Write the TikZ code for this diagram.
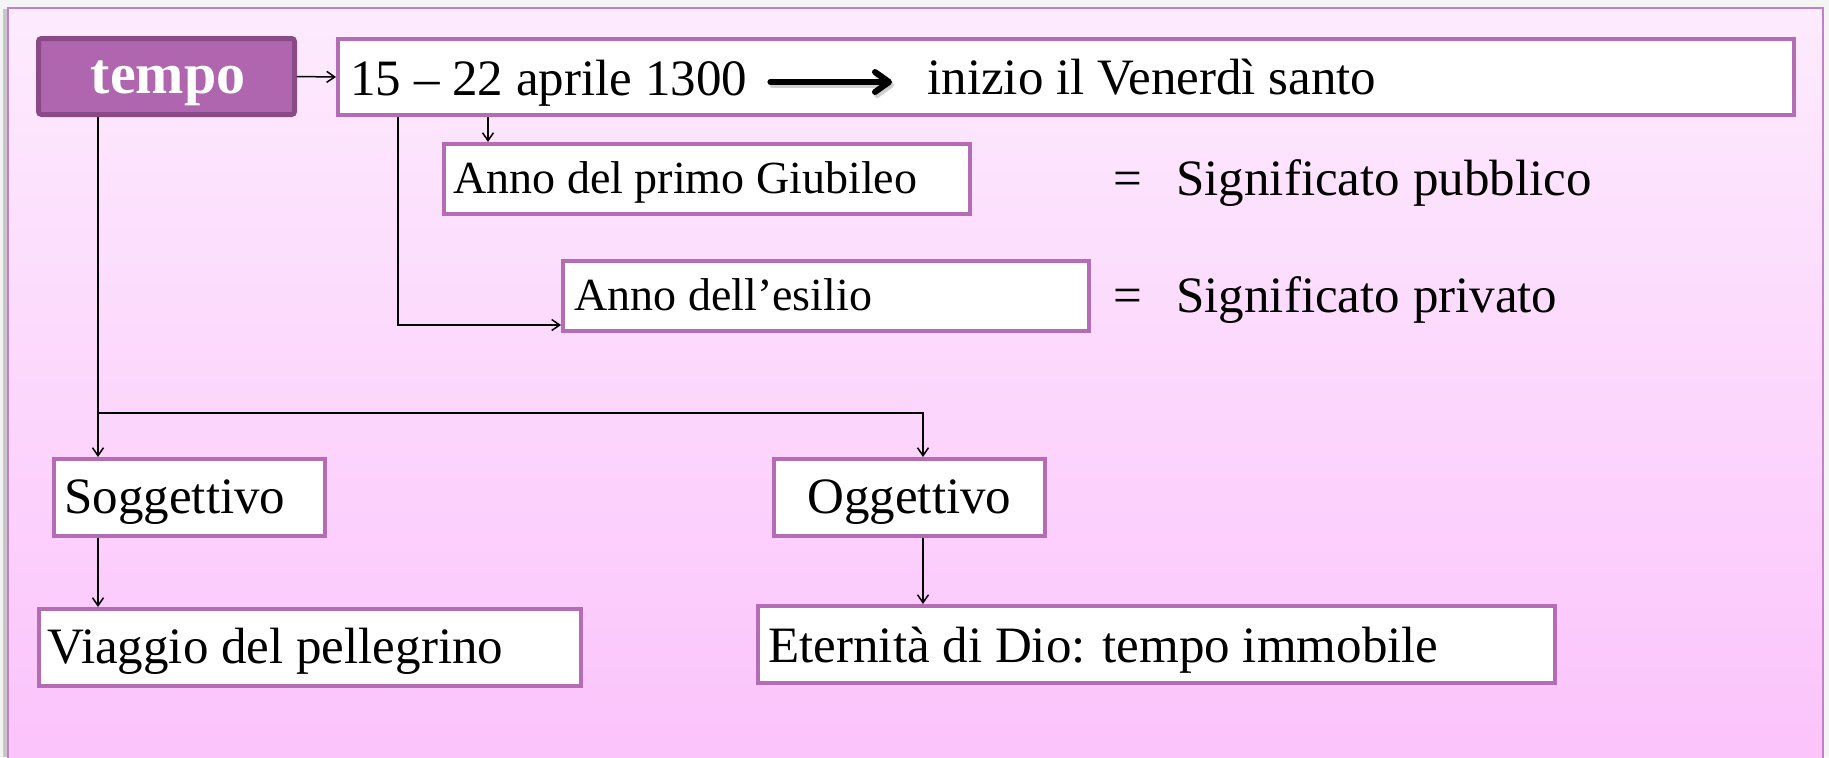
\documentclass[tikz,border=0pt]{standalone}
\usepackage{fontspec}
\setmainfont{Liberation Serif}
\usetikzlibrary{arrows.meta,calc}
\definecolor{bgout}{HTML}{F4F4F4}
\definecolor{bgtop}{HTML}{FDEBFE}
\definecolor{bgbot}{HTML}{FBC3FB}
\definecolor{frameline}{HTML}{C27EC8}
\definecolor{boxline}{HTML}{B46CB4}
\definecolor{tempofill}{HTML}{B066AE}
\definecolor{tempoline}{HTML}{8A4A88}
\tikzset{
  x=0.5pt, y=-0.5pt,
  stepbox/.style={draw=boxline, line width=2pt, fill=white, inner sep=0pt},
  txt/.style={anchor=base west, inner sep=0pt, font=\fontsize{25.5}{30}\selectfont},
  smalltxt/.style={anchor=base west, inner sep=0pt, font=\fontsize{23}{27}\selectfont},
  conn/.style={draw=black, line width=0.75pt, -{Straight Barb[length=4pt,width=5.5pt]}},
  bigarrow/.style={draw=black, line width=3pt, line cap=round, -{Straight Barb[length=7pt,width=10pt,line join=round,line cap=round]}},
}
\begin{document}
\begin{tikzpicture}
\useasboundingbox (0,0) rectangle (1829,757);
\fill[bgout] (0,0) rectangle (1829,757);
\fill[gray!45] (3,9) rectangle (8,757);
\shade[top color=bgtop, bottom color=bgbot] (7,7) rectangle (1823,770);
\draw[frameline, line width=1pt] (7.5,770) -- (7.5,7.5) -- (1822.5,7.5) -- (1822.5,770);

% boxes
\node[draw=tempoline, fill=tempofill, line width=2.5pt, rounded corners=1.5pt, minimum width=128pt, minimum height=38pt, inner sep=0pt] (tempo) at (166.5,76.5) {};
\node[stepbox, minimum width=728pt, minimum height=38pt] (date) at (1066,77) {};
\node[stepbox, minimum width=263pt, minimum height=35pt] (giub) at (707,179) {};
\node[stepbox, minimum width=263pt, minimum height=35pt] (esil) at (826,296) {};
\node[stepbox, minimum width=135.5pt, minimum height=38.5pt] (sogg) at (189.5,497.5) {};
\node[stepbox, minimum width=271pt, minimum height=38.5pt] (via) at (310,647.5) {};
\node[stepbox, minimum width=135.5pt, minimum height=38.5pt] (ogg) at (909.5,497.5) {};
\node[stepbox, minimum width=398.5pt, minimum height=38.5pt] (eter) at (1156.5,644.5) {};

% texts
\node[anchor=base, inner sep=0pt, text=white, font=\fontsize{29}{34}\selectfont\bfseries] (tempotxt) at (168,93) {tempo};
\node[txt] (t1) at (350,95) {15 – 22 aprile 1300};
\node[txt] (t2) at (927,94) {inizio il Venerdì santo};
\node[smalltxt] (giubtxt) at (453,193) {Anno del primo Giubileo};
\node[smalltxt] (esiltxt) at (574,310) {Anno dell’esilio};
\node[txt] (eq1) at (1113,195) {=};
\node[txt] (pub) at (1176,195) {Significato pubblico};
\node[txt] (eq2) at (1113,312) {=};
\node[txt] (priv) at (1176,312) {Significato privato};
\node[txt] (soggtxt) at (64,513) {Soggettivo};
\node[txt] (oggtxt) at (807,513) {Oggettivo};
\node[txt] (viatxt) at (47,663) {Viaggio del pellegrino};
\node[txt] (etertxt) at (768,662) {Eternità di Dio: tempo immobile};

% big arrow with shadow
\coordinate (ay) at (0,82);
\coordinate (ba0) at ($(t1.east)+(23,0)$);
\coordinate (bb0) at ($(t2.west)+(-35,0)$);
\coordinate (ba) at (ba0 |- ay);
\coordinate (bb) at (bb0 |- ay);
\draw[bigarrow, draw=black!30, opacity=0.6] ($(ba)+(2,3)$) -- ($(bb)+(2,3)$);
\draw[bigarrow] (ba) -- (bb);

% connectors
\coordinate (gx) at (488,0);
\coordinate (ex) at (398,0);
\coordinate (tx) at (98,0);
\coordinate (ox) at (923,0);
\coordinate (br) at (98,413);
\coordinate (ey) at ($(esil.south west)+(0,-8)$);
\draw[conn] (tempo.east) -- (date.west);
\draw[conn] (gx |- date.south) -- (gx |- giub.north);
\draw[conn] (ex |- date.south) |- (ey);
\draw[conn] (tx |- tempo.south) -- (tx |- sogg.north);
\draw[conn] (br) -| (ox |- ogg.north);
\draw[conn] (tx |- sogg.south) -- (tx |- via.north);
\draw[conn] (ox |- ogg.south) -- (ox |- eter.north);
\end{tikzpicture}
\end{document}
